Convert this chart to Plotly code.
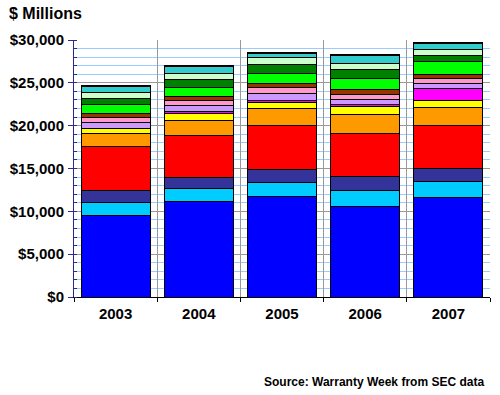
import plotly.graph_objects as go

years = ["2003", "2004", "2005", "2006", "2007"]

# Stacked segments from bottom to top (values in $ millions)
blue_vals       = [9530, 11170, 11750, 10585, 11635]
cyan_vals       = [1470, 1515, 1635, 1865, 1820]
indigo_vals     = [1440, 1285, 1515, 1635, 1565]
red_vals        = [5140, 4900, 5135, 5020, 5015]
orange_vals     = [1515, 1750, 1985, 2215, 2105]
yellow_vals     = [585, 850, 735, 970, 815]
magenta_vals    = [0, 230, 235, 195, 1355]
lavender_vals   = [700, 670, 780, 585, 630]
pink_vals       = [580, 585, 700, 585, 580]
brown_vals      = [470, 470, 470, 585, 505]
green_vals      = [1050, 1050, 1165, 1235, 1480]
darkgreen_vals  = [700, 935, 1050, 1095, 700]
lightgreen_vals = [700, 700, 850, 700, 700]
teal_vals       = [675, 815, 370, 935, 655]
black_vals      = [100, 60, 180, 80, 160]

series = [
    ("Series 1", blue_vals, "#0000FF"),
    ("Series 2", cyan_vals, "#00CCFF"),
    ("Series 3", indigo_vals, "#333399"),
    ("Series 4", red_vals, "#FF0000"),
    ("Series 5", orange_vals, "#FF9900"),
    ("Series 6", yellow_vals, "#FFFF00"),
    ("Series 7", magenta_vals, "#FF00FF"),
    ("Series 8", lavender_vals, "#CC99FF"),
    ("Series 9", pink_vals, "#FF99CC"),
    ("Series 10", brown_vals, "#993300"),
    ("Series 11", green_vals, "#00FF00"),
    ("Series 12", darkgreen_vals, "#008000"),
    ("Series 13", lightgreen_vals, "#CCFFCC"),
    ("Series 14", teal_vals, "#33CCCC"),
    ("Series 15", black_vals, "#000000"),
]

FONT = "Liberation Sans, Arial, sans-serif"

fig = go.Figure()
for name, vals, col in series:
    fig.add_trace(go.Bar(
        x=years, y=vals, name=name,
        marker=dict(color=col, line=dict(color="#000000", width=1)),
    ))

fig.update_layout(
    width=500, height=395,
    barmode="stack", bargap=0.17,
    showlegend=False,
    plot_bgcolor="#FFFFFF", paper_bgcolor="#FFFFFF",
    margin=dict(l=74, r=10, t=40, b=98, autoexpand=False),
    font=dict(family=FONT, color="#000000"),
)

fig.update_xaxes(
    type="category",
    tickson="boundaries",
    showgrid=True, gridcolor="#999999", gridwidth=1,
    showline=True, linecolor="#000000", linewidth=1,
    ticks="outside", ticklen=4, tickcolor="#000000",
    tickfont=dict(family=FONT, size=15, weight="bold", color="#000000"),
    range=[-0.5, 4.5],
    automargin=False,
    ticklabelstandoff=3,
)

fig.update_yaxes(
    range=[0, 30000],
    dtick=5000, tick0=0,
    tickprefix="$", tickformat=",d",
    showgrid=True, gridcolor="#999999", gridwidth=1,
    showline=True, linecolor="#2B2B8C", linewidth=1,
    ticks="outside", ticklen=5, tickcolor="#2B2B8C",
    tickfont=dict(family=FONT, size=15, weight="bold", color="#000000"),
    minor=dict(dtick=1000, showgrid=True, gridcolor="#99CCFF", gridwidth=1,
               ticks="inside", ticklen=3, tickcolor="#2B2B8C"),
    zeroline=False,
    automargin=False,
    ticklabelstandoff=1,
)

fig.add_annotation(
    text="$ Millions", xref="paper", yref="paper",
    x=-0.161, y=1.104, xanchor="left", yanchor="middle",
    showarrow=False, font=dict(family=FONT, size=16, weight="bold", color="#000000"),
)
fig.add_annotation(
    text="Source: Warranty Week from SEC data", xref="paper", yref="paper",
    x=0.990, y=-0.33, xanchor="right", yanchor="middle",
    showarrow=False, font=dict(family=FONT, size=12, weight="bold", color="#000000"),
)

fig.write_html("out.html", config={"displayModeBar": False},
               post_script="document.body.style.margin='0';")
